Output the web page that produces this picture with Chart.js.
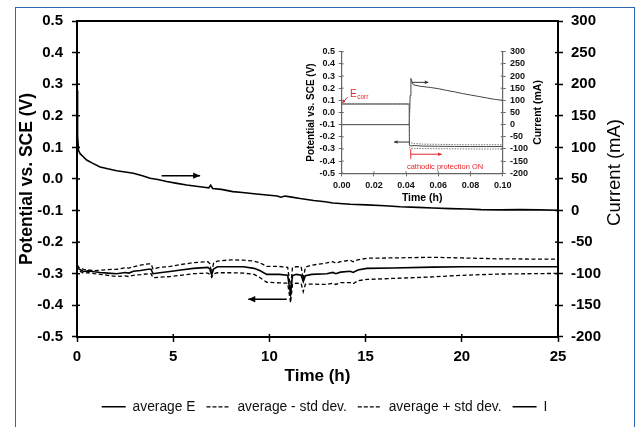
<!DOCTYPE html>
<html><head><meta charset="utf-8">
<script src="https://cdn.jsdelivr.net/npm/chart.js@4.4.1/dist/chart.umd.min.js"></script>
<style>
html,body{margin:0;padding:0;background:#fff;width:637px;height:427px;overflow:hidden;}
#frame{position:absolute;left:15px;top:7px;width:620px;height:440px;border:1.5px solid #2b6cb0;box-sizing:border-box;}
#main{position:absolute;left:0;top:0;}
#inset{position:absolute;left:300px;top:35px;}
</style></head><body>
<div id="frame"></div>
<canvas id="main" width="637" height="427"></canvas>
<canvas id="inset" width="260" height="170"></canvas>
<script>
// ---------- main chart data ----------
const xTicksMain = [0, 5, 10, 15, 20, 25];
const timeI = [0, 0.03, 0.08, 0.16, 0.3, 0.5, 0.8, 1.2, 1.6, 2.06, 2.5, 2.93, 3.4, 3.8, 4.2, 4.66, 5.2, 5.7, 6.2, 6.7, 6.85, 6.95, 7.05, 7.5, 8.1, 8.6, 9.2, 9.86, 10.4, 10.6, 10.8, 11, 11.6, 12.3, 12.9, 13.3, 14.2, 15.06, 16, 16.8, 17.7, 18.5, 19.4, 20.25, 21, 22, 23, 24, 25];
const currentI = [190, 118, 95, 90, 86, 80, 75, 69, 66, 63, 61, 59, 55, 51, 49, 46, 43, 40.5, 38.5, 36.5, 36, 40, 35, 33.5, 30, 28.5, 26.5, 24.5, 23, 21, 23, 22, 19, 16, 14, 12, 10, 9, 7.5, 6, 5, 4, 3, 2.5, 1.5, 1, 1.5, 1, 0.5];
const timeE = [0, 0.1, 0.33, 0.6, 0.9, 1.2, 1.6, 2.06, 2.5, 2.7, 2.93, 3.3, 3.7, 3.85, 3.95, 4.3, 4.83, 5.4, 6.05, 6.8, 6.9, 7.0, 7.1, 7.3, 8.0, 8.65, 9.2, 9.5, 9.86, 10.5, 10.95, 11.1, 11.2, 11.4, 11.65, 11.76, 11.87, 12.2, 12.98, 13.3, 13.45, 13.7, 14.2, 14.35, 14.6, 15.06, 16.4, 18.5, 20, 22, 25];
const avgE = [-0.272, -0.285, -0.293, -0.291, -0.294, -0.296, -0.298, -0.300, -0.296, -0.298, -0.292, -0.290, -0.286, -0.286, -0.300, -0.297, -0.293, -0.288, -0.283, -0.280, -0.285, -0.304, -0.285, -0.278, -0.278, -0.278, -0.283, -0.290, -0.302, -0.302, -0.305, -0.365, -0.306, -0.302, -0.305, -0.325, -0.306, -0.302, -0.300, -0.296, -0.300, -0.295, -0.292, -0.296, -0.288, -0.283, -0.282, -0.279, -0.278, -0.278, -0.278];
const avgMinusStd = [-0.274, -0.290, -0.298, -0.297, -0.300, -0.302, -0.305, -0.309, -0.307, -0.309, -0.305, -0.303, -0.300, -0.300, -0.313, -0.311, -0.309, -0.305, -0.300, -0.298, -0.302, -0.312, -0.300, -0.297, -0.297, -0.298, -0.302, -0.312, -0.327, -0.329, -0.330, -0.392, -0.332, -0.330, -0.331, -0.357, -0.333, -0.333, -0.334, -0.330, -0.334, -0.328, -0.328, -0.332, -0.322, -0.318, -0.315, -0.310, -0.305, -0.301, -0.299];
const avgPlusStd = [-0.272, -0.280, -0.286, -0.288, -0.290, -0.289, -0.287, -0.286, -0.281, -0.282, -0.278, -0.273, -0.269, -0.269, -0.285, -0.280, -0.277, -0.271, -0.265, -0.262, -0.268, -0.298, -0.266, -0.260, -0.256, -0.257, -0.260, -0.265, -0.277, -0.277, -0.280, -0.345, -0.280, -0.278, -0.278, -0.318, -0.279, -0.273, -0.266, -0.262, -0.267, -0.262, -0.257, -0.262, -0.256, -0.251, -0.250, -0.248, -0.250, -0.253, -0.254];
const seriesNames = ['average E', 'average - std dev.', 'average + std dev.', 'I'];

// ---------- inset data ----------
const insetTimeE = [0, 0.042, 0.0421, 0.043, 0.045, 0.05, 0.06, 0.07, 0.08, 0.09, 0.10];
const insetAvgE = [0.07, 0.07, -0.27, -0.275, -0.272, -0.276, -0.278, -0.279, -0.28, -0.28, -0.28];
const insetPlusE = [0.07, 0.07, -0.25, -0.25, -0.255, -0.26, -0.262, -0.264, -0.265, -0.265, -0.265];
const insetMinusE = [0.07, 0.07, -0.29, -0.295, -0.295, -0.297, -0.298, -0.298, -0.3, -0.3, -0.3];
const insetTimeI = [0, 0.042, 0.0425, 0.043, 0.0437, 0.0445, 0.0486, 0.055, 0.06, 0.065, 0.07, 0.075, 0.08, 0.085, 0.09, 0.095, 0.10];
const insetI = [0, 0, 120, 190, 175, 164, 158, 153, 148, 141, 135, 128, 122, 116, 110, 104, 100];

const FONT = "'Liberation Sans', Arial, Helvetica, sans-serif";
Chart.defaults.font.family = FONT;
Chart.defaults.color = '#000';

const pts = (xs, ys) => xs.map((x, i) => ({x: x, y: ys[i]}));
const fmt = d => v => (Math.abs(v) < 1e-9 ? 0 : v).toFixed(d);

const annot = {
  id: 'annot',
  afterDraw(chart, args, o) {
    const ctx = chart.ctx, ca = chart.chartArea, xs = chart.scales.x;
    ctx.save();
    if (o.inner) {
      ctx.strokeStyle = o.inner.color; ctx.lineWidth = o.inner.width;
      Object.values(chart.scales).forEach(s => {
        s.ticks.forEach(t => {
          const p = s.getPixelForValue(t.value);
          ctx.beginPath();
          if (s.isHorizontal()) { ctx.moveTo(p, ca.bottom); ctx.lineTo(p, ca.bottom - o.inner.len); }
          else if (s.position === 'left') { ctx.moveTo(ca.left, p); ctx.lineTo(ca.left + o.inner.len, p); }
          else { ctx.moveTo(ca.right, p); ctx.lineTo(ca.right - o.inner.len, p); }
          ctx.stroke();
        });
      });
    }
    if (o.topLine) {
      ctx.strokeStyle = o.topLine.color; ctx.lineWidth = o.topLine.width;
      ctx.beginPath(); ctx.moveTo(ca.left - 1, ca.top); ctx.lineTo(ca.right + 1, ca.top); ctx.stroke();
    }
    if (o.rightTitle) {
      const r = o.rightTitle;
      ctx.save();
      ctx.translate(ca.right + r.offset, (ca.top + ca.bottom) / 2 + (r.dy || 0));
      ctx.rotate(-Math.PI / 2);
      ctx.font = r.font; ctx.fillStyle = '#000';
      ctx.textAlign = 'center'; ctx.textBaseline = 'middle';
      ctx.fillText(r.text, 0, 0);
      ctx.restore();
    }
    (o.segments || []).forEach(a => {
      const ys = chart.scales[a.axis || 'y'];
      ctx.strokeStyle = a.color; ctx.lineWidth = a.width; ctx.setLineDash([]);
      ctx.beginPath();
      ctx.moveTo(xs.getPixelForValue(a.x1), ys.getPixelForValue(a.y1));
      ctx.lineTo(xs.getPixelForValue(a.x2), ys.getPixelForValue(a.y2));
      ctx.stroke();
    });
    (o.arrows || []).forEach(a => {
      const ys = chart.scales[a.axis || 'y'];
      const x1 = xs.getPixelForValue(a.x1), y1 = ys.getPixelForValue(a.y1);
      const x2 = xs.getPixelForValue(a.x2), y2 = ys.getPixelForValue(a.y2);
      ctx.strokeStyle = a.color; ctx.fillStyle = a.color; ctx.lineWidth = a.width; ctx.setLineDash([]);
      ctx.beginPath(); ctx.moveTo(x1, y1); ctx.lineTo(x2, y2); ctx.stroke();
      const ang = Math.atan2(y2 - y1, x2 - x1);
      const bx = x2 - a.head * Math.cos(ang), by = y2 - a.head * Math.sin(ang);
      const px = -Math.sin(ang) * a.headW, py = Math.cos(ang) * a.headW;
      ctx.beginPath(); ctx.moveTo(bx + px, by + py); ctx.lineTo(x2, y2); ctx.lineTo(bx - px, by - py);
      if (a.fill) { ctx.closePath(); ctx.fill(); } else { ctx.stroke(); }
    });
    (o.texts || []).forEach(t => {
      const ys = chart.scales[t.axis || 'y'];
      const x = xs.getPixelForValue(t.x), y = ys.getPixelForValue(t.y);
      ctx.fillStyle = t.color; ctx.font = t.font;
      ctx.textAlign = t.align || 'left'; ctx.textBaseline = t.baseline || 'alphabetic';
      ctx.fillText(t.text, x, y);
      if (t.sub) {
        const w = ctx.measureText(t.text).width;
        ctx.font = t.sub.font; ctx.textAlign = 'left';
        ctx.fillText(t.sub.text, x + w + 0.5, y + t.sub.dy);
      }
    });
    ctx.restore();
  }
};

// ---------- main chart ----------
const lineBase = {borderColor: '#000', backgroundColor: '#000', pointRadius: 0, tension: 0, fill: false};
new Chart(document.getElementById('main'), {
  type: 'line',
  data: {
    datasets: [
      Object.assign({label: seriesNames[0], data: pts(timeE, avgE), yAxisID: 'y', borderWidth: 1.6}, lineBase),
      Object.assign({label: seriesNames[1], data: pts(timeE, avgMinusStd), yAxisID: 'y', borderWidth: 1.3, borderDash: [4, 2.5]}, lineBase),
      Object.assign({label: seriesNames[2], data: pts(timeE, avgPlusStd), yAxisID: 'y', borderWidth: 1.3, borderDash: [4, 2.5]}, lineBase),
      Object.assign({label: seriesNames[3], data: pts(timeI, currentI), yAxisID: 'y1', borderWidth: 1.6}, lineBase)
    ]
  },
  options: {
    responsive: false, animation: false, devicePixelRatio: 1,
    layout: {padding: {left: 15, right: 3, top: 21, bottom: 3.3}},
    plugins: {
      legend: {
        position: 'bottom',
        labels: {
          usePointStyle: true, pointStyle: 'line', pointStyleWidth: 24, boxWidth: 24, padding: 11, color: '#111', font: {size: 13.8},
          generateLabels(chart) {
            const items = Chart.defaults.plugins.legend.labels.generateLabels(chart);
            items.forEach(it => {
              const ds = chart.data.datasets[it.datasetIndex];
              it.lineDash = ds.borderDash ? [4, 2] : [];
              it.lineWidth = ds.borderDash ? 1.2 : 1.5;
              it.strokeStyle = '#000';
              it.pointStyle = 'line';
            });
            return items;
          }
        }
      },
      tooltip: {enabled: false},
      annot: {
        inner: {len: 3, color: '#000', width: 1.5},
        topLine: {color: '#000', width: 2},
        rightTitle: {text: 'Current (mA)', offset: 57, dy: -6.5, font: '18.5px ' + FONT},
        arrows: [
          {x1: 4.4, y1: 0.0104, x2: 6.4, y2: 0.0104, axis: 'y', color: '#000', width: 1.5, head: 7, headW: 3.2},
          {x1: 10.9, y1: -0.381, x2: 8.9, y2: -0.381, axis: 'y', color: '#000', width: 1.5, head: 7, headW: 3.2}
        ]
      }
    },
    scales: {
      x: {
        type: 'linear', position: 'bottom', min: 0, max: 25,
        afterBuildTicks: s => { s.ticks = xTicksMain.map(v => ({value: v})); },
        ticks: {autoSkip: false, font: {size: 15, weight: 'bold'}, padding: 6, maxRotation: 0, color: '#000'},
        grid: {drawOnChartArea: false, tickLength: 5, color: '#000', tickWidth: 1.5},
        border: {color: '#000', width: 2},
        title: {display: true, text: 'Time (h)', font: {size: 17, weight: 'bold'}, padding: {top: 0, bottom: 2}, color: '#000'},
        afterFit: s => { s.height = 52; }
      },
      y: {
        type: 'linear', position: 'left', min: -0.5, max: 0.5,
        ticks: {autoSkip: false, stepSize: 0.1, callback: fmt(1), font: {size: 15, weight: 'bold'}, padding: 9, color: '#000'},
        grid: {drawOnChartArea: false, tickLength: 5, color: '#000', tickWidth: 1.5},
        border: {color: '#000', width: 2},
        title: {display: true, text: 'Potential vs. SCE (V)', font: {size: 17.5, weight: 'bold'}, padding: {top: 2, bottom: 0}, color: '#000'},
        afterFit: s => { s.width = 62; }
      },
      y1: {
        type: 'linear', position: 'right', min: -200, max: 300,
        ticks: {autoSkip: false, stepSize: 50, font: {size: 15, weight: 'bold'}, padding: 8, color: '#000'},
        grid: {drawOnChartArea: false, tickLength: 5, color: '#000', tickWidth: 1.5},
        border: {color: '#000', width: 2},
        afterFit: s => { s.width = 76; }
      }
    }
  },
  plugins: [annot]
});

// ---------- inset chart ----------
const insetLine = {borderColor: '#444', pointRadius: 0, tension: 0, fill: false, borderWidth: 1};
const RED = '#e3262b';
new Chart(document.getElementById('inset'), {
  type: 'line',
  data: {
    datasets: [
      Object.assign({label: seriesNames[1], data: pts(insetTimeE, insetMinusE), yAxisID: 'y', borderDash: [1.5, 1.2]}, insetLine, {borderColor: '#777'}),
      Object.assign({label: seriesNames[2], data: pts(insetTimeE, insetPlusE), yAxisID: 'y', borderDash: [1.5, 1.2]}, insetLine, {borderColor: '#777'}),
      Object.assign({label: seriesNames[0], data: pts(insetTimeE, insetAvgE), yAxisID: 'y'}, insetLine),
      Object.assign({label: seriesNames[3], data: pts(insetTimeI, insetI), yAxisID: 'y1'}, insetLine)
    ]
  },
  options: {
    responsive: false, animation: false, devicePixelRatio: 1,
    layout: {padding: {left: 0, right: 0, top: 16.7, bottom: 0}},
    plugins: {
      legend: {display: false}, tooltip: {enabled: false},
      annot: {
        inner: {len: 2, color: '#666', width: 1},
        rightTitle: {text: 'Current (mA)', offset: 35.6, font: 'bold 10.5px ' + FONT},
        segments: [
          {x1: 0.0429, y1: -0.30, x2: 0.0429, y2: -0.38, axis: 'y', color: RED, width: 1}
        ],
        arrows: [
          {x1: 0.0435, y1: 0.248, x2: 0.0538, y2: 0.248, axis: 'y', color: '#333', width: 1, head: 3.5, headW: 1.8, fill: true},
          {x1: 0.0424, y1: -0.243, x2: 0.0325, y2: -0.243, axis: 'y', color: '#333', width: 1, head: 3.5, headW: 1.8, fill: true},
          {x1: 0.0036, y1: 0.126, x2: 0.0004, y2: 0.078, axis: 'y', color: RED, width: 1, head: 3, headW: 1.5, fill: true},
          {x1: 0.0429, y1: -0.343, x2: 0.0621, y2: -0.343, axis: 'y', color: RED, width: 1, head: 3.5, headW: 1.8, fill: true}
        ],
        texts: [
          {x: 0.0052, y: 0.13, axis: 'y', text: 'E', font: '10px ' + FONT, color: RED, sub: {text: 'corr', font: '6.5px ' + FONT, dy: 2}},
          {x: 0.0642, y: -0.446, axis: 'y', text: 'cathodic protection ON', font: '7.5px ' + FONT, color: RED, align: 'center', baseline: 'middle'}
        ]
      }
    },
    scales: {
      x: {
        type: 'linear', position: 'bottom', min: 0, max: 0.1,
        ticks: {autoSkip: false, stepSize: 0.02, callback: fmt(2), font: {size: 9, weight: 'bold'}, padding: 4, maxRotation: 0, color: '#111'},
        grid: {drawOnChartArea: false, tickLength: 3, color: '#666', tickWidth: 1},
        border: {color: '#666', width: 1.2},
        title: {display: true, text: 'Time (h)', font: {size: 10.5, weight: 'bold'}, padding: {top: 0, bottom: 1}, color: '#000'},
        afterFit: s => { s.height = 31.7; }
      },
      y: {
        type: 'linear', position: 'left', min: -0.5, max: 0.5,
        ticks: {autoSkip: false, stepSize: 0.1, callback: fmt(1), font: {size: 9, weight: 'bold'}, padding: 3.7, color: '#111'},
        grid: {drawOnChartArea: false, tickLength: 3, color: '#666', tickWidth: 1},
        border: {color: '#666', width: 1.2},
        title: {display: true, text: 'Potential vs. SCE (V)', font: {size: 10, weight: 'bold'}, padding: {top: 5.5, bottom: 0}, color: '#000'},
        afterFit: s => { s.width = 41.7; }
      },
      y1: {
        type: 'linear', position: 'right', min: -200, max: 300,
        ticks: {autoSkip: false, stepSize: 50, font: {size: 9, weight: 'bold'}, padding: 4.3, color: '#111'},
        grid: {drawOnChartArea: false, tickLength: 3, color: '#666', tickWidth: 1},
        border: {color: '#666', width: 1.2},
        afterFit: s => { s.width = 57.3; }
      }
    }
  },
  plugins: [annot]
});
</script></body></html>
